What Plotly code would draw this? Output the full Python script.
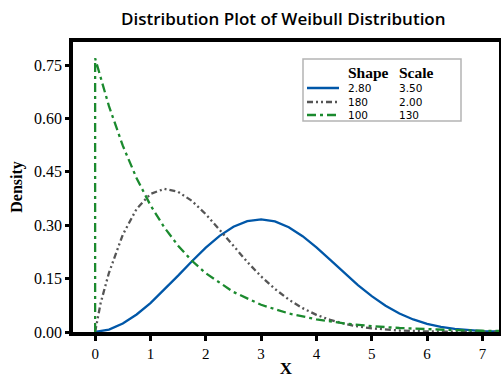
import plotly.graph_objects as go

# ---- data ----
shape_labels = ["2.80", "180", "100"]
scale_labels = ["3.50", "2.00", "130"]

x_blue = [0, 0.25, 0.5, 0.75, 1, 1.25, 1.5, 1.75, 2, 2.25, 2.5, 2.75, 3, 3.25, 3.5,
          3.75, 4, 4.25, 4.5, 4.75, 5, 5.25, 5.5, 5.75, 6, 6.25, 6.5, 6.75, 7, 7.25, 7.5]
y_blue = [0, 0.0069, 0.0240, 0.0493, 0.0814, 0.1186, 0.1586, 0.1990, 0.2371, 0.2702,
          0.2957, 0.3115, 0.3167, 0.3106, 0.2943, 0.2693, 0.2378, 0.2027, 0.1666, 0.1320,
          0.1007, 0.0739, 0.0521, 0.0353, 0.0229, 0.0143, 0.0085, 0.0048, 0.0026, 0.0014,
          0.0007]

x_gray = [0, 0.05, 0.1, 0.25, 0.5, 0.75, 1, 1.25, 1.5, 1.75, 2, 2.25, 2.5, 2.75, 3,
          3.25, 3.5, 3.75, 4, 4.25, 4.5, 4.75, 5, 5.5, 6, 6.5, 7, 7.5]
y_gray = [0, 0.0470, 0.0816, 0.1665, 0.2734, 0.3461, 0.3879, 0.4023, 0.3940, 0.3684,
          0.3311, 0.2873, 0.2414, 0.1970, 0.1563, 0.1209, 0.0911, 0.0670, 0.0482, 0.0339,
          0.0233, 0.0156, 0.0103, 0.0042, 0.0016, 0.00055, 0.00018, 0.00005]

x_green = [0, 0, 0.25, 0.5, 0.75, 1, 1.25, 1.5, 1.75, 2, 2.5, 3, 3.5, 4, 4.5, 5, 5.5,
           6, 6.5, 7, 7.5]
y_green = [0, 0.7692, 0.6347, 0.5236, 0.4320, 0.3564, 0.2941, 0.2426, 0.2002, 0.1652,
           0.1124, 0.0765, 0.0521, 0.0355, 0.0241, 0.0164, 0.0112, 0.0076, 0.0052,
           0.0035, 0.0024]

x_ticks = [0, 1, 2, 3, 4, 5, 6, 7]
y_ticks = [0, 0.15, 0.30, 0.45, 0.60, 0.75]
y_tick_text = ["0.00", "0.15", "0.30", "0.45", "0.60", "0.75"]

colors = ["#0057A8", "#555555", "#1B8A2E"]
dashes = ["solid", "6px,3px,2px,3px,2px,3px", "9px,4px,3px,4px"]

W, H = 501, 378
ML, MR, MT, MB = 73, 2, 42, 46
PW, PH = W - ML - MR, H - MT - MB


def px(x):
    return (x - ML) / PW


def py(y):
    return (H - MB - y) / PH


fig = go.Figure()
for xs, ys, c, d in zip([x_blue, x_gray, x_green], [y_blue, y_gray, y_green], colors, dashes):
    fig.add_trace(go.Scatter(x=xs, y=ys, mode="lines",
                             line=dict(color=c, width=2.3, dash=d),
                             showlegend=False, hoverinfo="skip"))

# ---- manual legend ----
shapes = [dict(type="rect", xref="paper", yref="paper",
               x0=px(303), x1=px(461), y0=py(121), y1=py(59),
               line=dict(color="#B4B4B4", width=1.5), fillcolor="white", layer="above")]
annotations = [
    dict(text="<b>Shape</b>", x=px(346), y=py(72), xref="paper", yref="paper",
         xanchor="left", yanchor="middle", showarrow=False,
         font=dict(family="Liberation Serif", size=15.5, color="black")),
    dict(text="<b>Scale</b>", x=px(397), y=py(72), xref="paper", yref="paper",
         xanchor="left", yanchor="middle", showarrow=False,
         font=dict(family="Liberation Serif", size=15.5, color="black")),
]
row_y = [88, 102, 115]
for i in range(3):
    shapes.append(dict(type="line", xref="paper", yref="paper",
                       x0=px(307), x1=px(339), y0=py(row_y[i]), y1=py(row_y[i]),
                       line=dict(color=colors[i], width=2.5, dash=dashes[i]), layer="above"))
    annotations.append(dict(text=shape_labels[i], x=px(346), y=py(row_y[i]), xref="paper",
                            yref="paper", xanchor="left", yanchor="middle", showarrow=False,
                            font=dict(family="DejaVu Sans", size=10.5, color="black")))
    annotations.append(dict(text=scale_labels[i], x=px(397), y=py(row_y[i]), xref="paper",
                            yref="paper", xanchor="left", yanchor="middle", showarrow=False,
                            font=dict(family="DejaVu Sans", size=10.5, color="black")))

annotations.append(dict(text="Distribution Plot of Weibull Distribution",
                        x=px(283), y=py(19), xref="paper", yref="paper",
                        xanchor="center", yanchor="middle", showarrow=False,
                        font=dict(family="Open Sans", size=17, weight=600, color="black")))

fig.update_layout(
    width=W, height=H,
    margin=dict(l=ML, r=MR, t=MT, b=MB, autoexpand=False),
    paper_bgcolor="white", plot_bgcolor="white",
    shapes=shapes, annotations=annotations,
    xaxis=dict(range=[-0.4, 7.3], tickvals=x_ticks, ticks="outside", ticklen=5, tickwidth=3,
               tickcolor="black", showline=True, linewidth=3.5, linecolor="black", mirror=True,
               showgrid=False, zeroline=False, automargin=False,
               tickfont=dict(family="Liberation Serif", size=15, color="black"),
               title=dict(text="<b>X</b>", standoff=8,
                          font=dict(family="Liberation Serif", size=17, color="black"))),
    yaxis=dict(range=[0, 0.815], tickvals=y_ticks, ticktext=y_tick_text, ticks="outside",
               ticklen=4, tickwidth=3, tickcolor="black", showline=True, linewidth=3.5,
               linecolor="black", mirror=True, showgrid=False, zeroline=False, automargin=False,
               tickfont=dict(family="Liberation Serif", size=16, color="black"),
               title=dict(text="<b>Density</b>", standoff=8,
                          font=dict(family="Liberation Serif", size=16, color="black"))),
)

fig.write_html("out.html", config={"displayModeBar": False},
               post_script="document.body.style.margin='0';")
